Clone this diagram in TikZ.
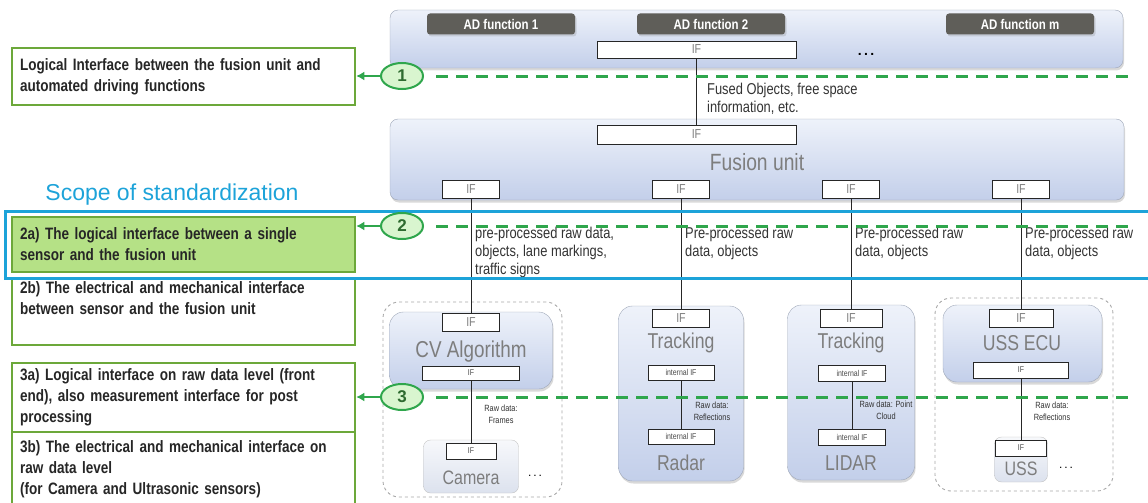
\documentclass[tikz,border=0pt]{standalone}
\usepackage{fontspec}
\setmainfont{Liberation Sans}
\newfontfamily\narrowfont{Liberation Sans}[FakeStretch=0.82]
\usetikzlibrary{arrows,arrows.meta,shapes,shadows,positioning}
\definecolor{paneltop}{HTML}{EEF2FA}
\definecolor{panelbot}{HTML}{C3CFEA}
\definecolor{panelline}{HTML}{9EA7B8}
\definecolor{fngrey}{HTML}{5F5E59}
\definecolor{iftext}{HTML}{7F7F7F}
\definecolor{notegreen}{HTML}{6CA83A}
\definecolor{notefill}{HTML}{B5E186}
\definecolor{markgreen}{HTML}{2FA64C}
\definecolor{markfill}{HTML}{D9F5CF}
\definecolor{marktext}{HTML}{2E6B30}
\definecolor{scopeblue}{HTML}{1DA3D9}
\definecolor{grouplines}{HTML}{A8A8A8}
\definecolor{lighttop}{HTML}{F7F8FB}
\definecolor{lightbot}{HTML}{DCE2EE}
\definecolor{labeltext}{HTML}{333333}
\definecolor{unittext}{HTML}{7D7D7D}
\tikzset{
    panel/.style = {draw=panelline, rounded corners=8pt, top color=paneltop,
        bottom color=panelbot, inner sep=0pt,
        drop shadow={opacity=0.3, shadow xshift=1pt, shadow yshift=-2.5pt}},
    sensor/.style = {panel, rounded corners=14pt},
    lightbox/.style = {draw=grouplines!70, rounded corners=7pt, top color=lighttop,
        bottom color=lightbot, inner sep=0pt},
    group/.style = {draw=grouplines, dashed, line width=0.9pt, rounded corners=16pt, inner sep=0pt},
    fnbox/.style = {fill=fngrey, rounded corners=3pt, text=white,
        font=\narrowfont\bfseries\fontsize{14}{14}\selectfont,
        minimum width=148, minimum height=21, inner sep=0pt,
        drop shadow={opacity=0.25, shadow xshift=1.5pt, shadow yshift=-2pt}},
    ifbox/.style = {draw=black!85, line width=0.8pt, fill=white, text=iftext,
        font=\narrowfont\fontsize{13}{13}\selectfont, inner sep=0pt},
    smallif/.style = {ifbox, text=black!70, font=\narrowfont\fontsize{8.5}{8.5}\selectfont},
    unit/.style = {text=unittext, font=\narrowfont\fontsize{21.5}{21.5}\selectfont, inner sep=0pt},
    flow/.style = {text=labeltext, align=left, inner sep=0pt,
        font=\narrowfont\fontsize{15.7}{18}\selectfont},
    rawtext/.style = {text=labeltext, align=center, inner sep=0pt,
        font=\narrowfont\fontsize{9}{12}\selectfont},
    note/.style = {draw=notegreen, line width=2.5pt, text width=327pt, inner xsep=8pt,
        inner ysep=0pt, align=left, text=black!85,
        font=\narrowfont\bfseries\fontsize{16.5}{21}\selectfont},
    marker/.style = {ellipse, draw=markgreen, line width=2pt, fill=markfill,
        minimum width=42, minimum height=26, inner sep=0pt, text=marktext,
        font=\bfseries\fontsize{17}{17}\selectfont},
    pointer/.style = {draw=markgreen, line width=2pt, -{Latex[length=8pt,width=9pt]}},
    level/.style = {draw=markgreen, line width=3pt, dash pattern=on 12pt off 8pt},
    wire/.style = {draw=black!85, line width=0.8pt},
    scopebox/.style = {draw=scopeblue, line width=3pt, inner sep=0pt}
}

\begin{document}
\begin{tikzpicture}[x=1pt, y=-1pt, >=latex']
    \useasboundingbox (0,0) rectangle (1148,503);
    \clip (0,0) rectangle (1148,503);
    % automated driving functions
    \node[panel, minimum width=733, minimum height=58] (adpanel) at (756.5,39) {};
    \foreach \i/\x/\t in {1/501/1, 2/711/2, 3/1020/m}
        \node[fnbox] (fn\i) at (\x,24) {AD function \t};
    \node[ifbox, minimum width=199, minimum height=17] (adif) at (696.5,49.5) {IF};
    \node[font=\bfseries\fontsize{14}{14}\selectfont] (addots) at (866,54) {.\,.\,.};
    % fusion unit
    \node[panel, minimum width=734, minimum height=81] (fusion) at (757,159.5) {};
    \node[unit, font=\narrowfont\fontsize{23.5}{23.5}\selectfont] (fusiontitle) at (757,162) {Fusion unit};
    \node[ifbox, minimum width=199, minimum height=19] (fusif) at (696.5,134.5) {IF};
    \foreach \i/\x in {1/471, 2/681, 3/851, 4/1021}
        \node[ifbox, minimum width=57, minimum height=18] (fif\i) at (\x,189) {IF};
    \draw[wire] (adif) -- (fusif);
    \node[flow, anchor=north west] (fusedlabel) at (707,83) {Fused Objects, free space\\information, etc.};

    % camera + CV algorithm
    \node[group, minimum width=179, minimum height=195] (camgroup) at (472.5,399.5) {};
    \node[sensor, minimum width=163, minimum height=77] (cv) at (471,350.5) {};
    \node[ifbox, minimum width=57, minimum height=18] (cvif) at (471,322) {IF};
    \node[unit, font=\narrowfont\fontsize{23}{23}\selectfont] (cvname) at (471,352) {CV Algorithm};
    \node[smallif, minimum width=97, minimum height=14] (cvraw) at (471,373) {IF};
    \node[lightbox, minimum width=95, minimum height=53] (camera) at (471,466.5) {};
    \node[smallif, minimum width=50, minimum height=16] (camif) at (471,451) {IF};
    \node[unit, font=\narrowfont\fontsize{19.5}{19.5}\selectfont] (camname) at (471,478) {Camera};
    \node[font=\fontsize{12}{12}\selectfont] (camdots) at (535,476) {.\,.\,.};
    \node[rawtext] (camrawlabel) at (501,414) {Raw data:\\Frames};
    \draw[wire] (cvraw) -- (camif);

    % radar
    \node[sensor, minimum width=125, minimum height=175] (radar) at (681,393.5) {};
    \node[ifbox, minimum width=57, minimum height=18] (radif) at (681,318) {IF};
    \node[unit] (radtrack) at (681,343) {Tracking};
    \node[smallif, minimum width=66, minimum height=15] (radint1) at (681,372.5) {internal IF};
    \node[smallif, minimum width=66, minimum height=15] (radint2) at (681,436.5) {internal IF};
    \node[unit] (radname) at (681,463) {Radar};
    \node[rawtext] (radrawlabel) at (712,411) {Raw data:\\Reflections};
    \draw[wire] (radint1) -- (radint2);

    % lidar
    \node[sensor, minimum width=127, minimum height=175] (lidar) at (851,392.5) {};
    \node[ifbox, minimum width=62, minimum height=18] (lidif) at (851,318) {IF};
    \node[unit] (lidtrack) at (851,343) {Tracking};
    \node[smallif, minimum width=67, minimum height=16] (lidint1) at (852,373) {internal IF};
    \node[smallif, minimum width=67, minimum height=16] (lidint2) at (852,437) {internal IF};
    \node[unit] (lidname) at (851,463) {LIDAR};
    \node[rawtext] (lidrawlabel) at (886,410) {Raw data: Point\\Cloud};
    \draw[wire] (lidint1) -- (lidint2);

    % ultrasonic
    \node[group, minimum width=178, minimum height=193] (ussgroup) at (1024,394.5) {};
    \node[sensor, minimum width=159, minimum height=77] (ussecu) at (1022.5,343.5) {};
    \node[ifbox, minimum width=64, minimum height=18] (ussif) at (1021,318) {IF};
    \node[unit] (ussecuname) at (1022,343) {USS ECU};
    \node[smallif, minimum width=95, minimum height=16] (ussraw) at (1021,370) {IF};
    \node[lightbox, minimum width=53, minimum height=45] (uss) at (1021,459.5) {};
    \node[smallif, minimum width=51, minimum height=16] (usssensif) at (1021,448) {IF};
    \node[unit, font=\narrowfont\fontsize{19.5}{19.5}\selectfont] (ussname) at (1021,469) {USS};
    \node[font=\fontsize{12}{12}\selectfont] (ussdots) at (1066,468) {.\,.\,.};
    \node[rawtext] (ussrawlabel) at (1052,411) {Raw data:\\Reflections};
    \draw[wire] (ussraw) -- (usssensif);

    % sensor links to fusion
    \draw[wire] (fif1) -- (cvif);
    \draw[wire] (fif2) -- (radif);
    \draw[wire] (fif3) -- (lidif);
    \draw[wire] (fif4) -- (ussif);
    \node[flow, anchor=north west] (flow1) at (475,227) {pre-processed raw data,\\objects, lane markings,\\traffic signs};
    \foreach \i/\x in {2/685, 3/855, 4/1025}
        \node[flow, anchor=north west] (flow\i) at (\x,227) {Pre-processed raw\\data, objects};

    % notes on the left
    \node[note, minimum height=57] (adnote) at (183.5,76.5) {Logical Interface between the fusion unit and\\automated driving functions};
    \node[note, minimum height=55, fill=notefill] (snote) at (183.5,244.5) {2a) The logical interface between a single\\sensor and the fusion unit};
    \node[note, minimum height=67] (enote) at (183.5,311.5) {2b) The electrical and mechanical interface\\between sensor and the fusion unit\\ \strut};
    \node[note, minimum height=69] (rawnote) at (183.5,397.5) {3a) Logical interface on raw data level (front\\end), also measurement interface for post\\processing};
    \node[note, minimum height=74] (plugnote) at (183.5,469) {3b) The electrical and mechanical interface on\\raw data level\\(for Camera and Ultrasonic sensors)};

    % scope of standardization
    \node[scopebox, anchor=north west, minimum width=1160, minimum height=67] (scope) at (4,210) {};
    \node[text=scopeblue, font=\fontsize{23}{23}\selectfont, inner sep=0pt] (scopetitle) at (172,195) {Scope of standardization};

    % interface levels
    \coordinate (lvlend) at (1132,0);
    \foreach \n/\y/\nt in {1/76/adnote, 2/226/snote, 3/397/rawnote}{
        \node[marker] (mark\n) at (402,\y) {\n};
        \draw[pointer] (mark\n.west) -- (mark\n -| \nt.east);
        \draw[level] ([xshift=12pt]mark\n.east) -- (mark\n -| lvlend);
    }
\end{tikzpicture}
\end{document}
